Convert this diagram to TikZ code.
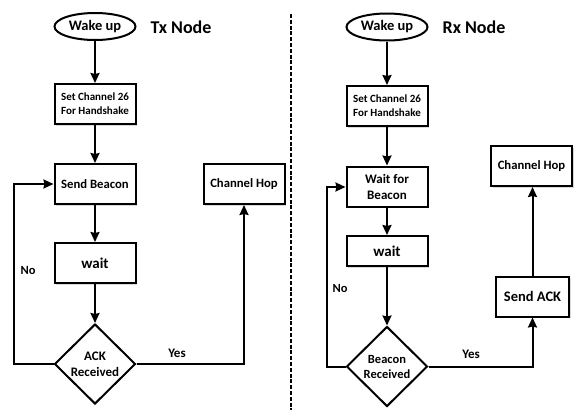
\documentclass[tikz,border=0pt]{standalone}
\usepackage{fontspec}
\setmainfont{Carlito}
\usetikzlibrary{shapes.geometric,arrows.meta,shadows}
\newcommand{\fsz}[1]{\bfseries\fontsize{#1}{#1}\selectfont}
\begin{document}
\begin{tikzpicture}[x=1pt,y=-1pt,
  every node/.style={font=\bfseries},
  lw/.style={line width=2pt},
  boxn/.style={draw,lw,rectangle,minimum width=81pt,minimum height=40pt,inner sep=1pt,align=center,fill=white,
     drop shadow={opacity=0.3,shadow xshift=1.5pt,shadow yshift=-1.5pt}},
  ovaln/.style={draw,lw,ellipse,minimum width=81pt,minimum height=27pt,inner sep=0pt,font=\fsz{14.5}},
  dia/.style={draw,lw,diamond,minimum width=81pt,minimum height=80pt,inner sep=0pt,align=center},
  title/.style={font=\fsz{18}},
  lab/.style={font=\fsz{12.5}},
  arr/.style={lw,-{Stealth[length=10pt,width=9pt,inset=1pt]}},
]
\useasboundingbox (0,0) rectangle (574,410);
% Tx side
\node[ovaln] (tw) at (95,26.5) {Wake up};
\node[title] (tt) at (181,27) {Tx Node};
\node[boxn,font=\fsz{11},execute at begin node=\setlength{\baselineskip}{14pt}] (tset) at (95,104) {Set Channel 26\\For Handshake};
\node[boxn,font=\fsz{12.7}] (tsb) at (95,184) {Send Beacon};
\node[boxn,font=\fsz{12.7}] (tch) at (244,184) {Channel Hop};
\node[boxn,font=\fsz{15}] (twait) at (95,263) {wait};
\node[dia,font=\fsz{13},execute at begin node=\setlength{\baselineskip}{16pt}] (tack) at (95,364) {ACK\\Received};
\coordinate (tl1) at (14,364);
\coordinate (tl2) at (14,184);
\coordinate (tr1) at (244,364);
\node[lab] (tno) at (28,270) {No};
\node[lab,font=\fsz{13}] (tyes) at (177,353) {Yes};
\draw[arr] (tw) -- (tset);
\draw[arr] (tset) -- (tsb);
\draw[arr] (tsb) -- (twait);
\draw[arr] (twait) -- (tack);
\draw[arr] (tack.west) -- (tl1) -- (tl2) -- (tsb.west);
\draw[arr] (tack.east) -- (tr1) -- (tch.south);
% divider
\coordinate (d1) at (291,14);
\coordinate (d2) at (291,410);
\draw[line width=1.8pt,dash pattern=on 4pt off 1.8pt] (d1) -- (d2);
% Rx side
\node[ovaln] (rw) at (387,27) {Wake up};
\node[title] (rt) at (474,27) {Rx Node};
\node[boxn,font=\fsz{11},execute at begin node=\setlength{\baselineskip}{14pt}] (rset) at (387,106) {Set Channel 26\\For Handshake};
\node[boxn,font=\fsz{13},execute at begin node=\setlength{\baselineskip}{16pt}] (rwb) at (387,186.5) {Wait for\\Beacon};
\node[boxn,font=\fsz{15},minimum height=30pt] (rwait) at (387,251) {wait};
\node[dia,font=\fsz{12.5},execute at begin node=\setlength{\baselineskip}{15pt}] (rbr) at (387,366.5) {Beacon\\Received};
\node[boxn,font=\fsz{14.5},minimum width=73pt] (rack) at (532.5,296.5) {Send ACK};
\node[boxn,font=\fsz{12.7}] (rch) at (531.5,166) {Channel Hop};
\coordinate (rl1) at (327,366.5);
\coordinate (rl2) at (327,187);
\coordinate (rr1) at (532.5,366.5);
\node[lab] (rno) at (340,288) {No};
\node[lab,font=\fsz{13}] (ryes) at (471,354) {Yes};
\draw[arr] (rw) -- (rset);
\draw[arr] (rset) -- (rwb);
\draw[arr] (rwb) -- (rwait);
\draw[arr] (rwait) -- (rbr);
\draw[arr] (rbr.west) -- (rl1) -- (rl2) -- (rwb.west |- rl2);
\draw[arr] (rbr.east) -- (rr1) -- (rack.south);
\draw[arr] (rack.north) -- (rack.north |- rch.south);
\end{tikzpicture}
\end{document}
